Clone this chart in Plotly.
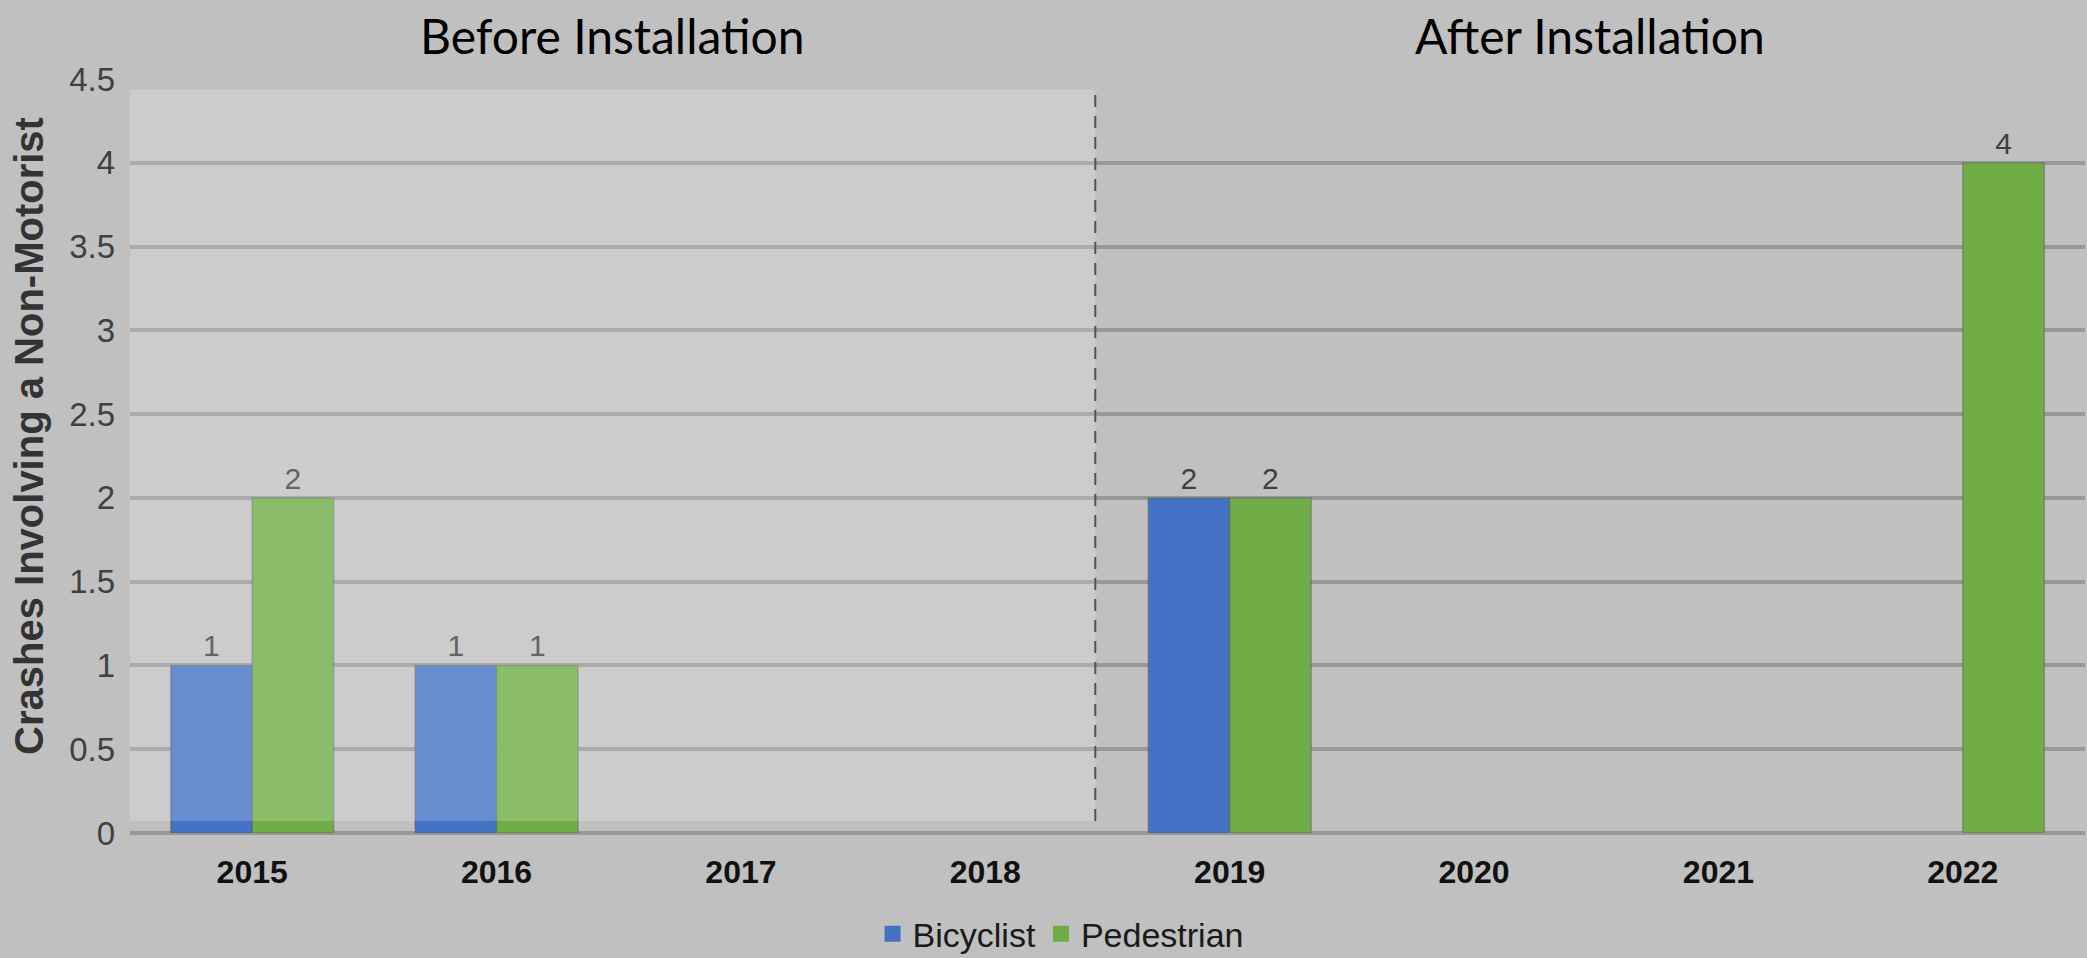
import plotly.graph_objects as go

# Crash counts by year
years = ["2015", "2016", "2017", "2018", "2019", "2020", "2021", "2022"]
bicyclist = [1, 1, 0, 0, 2, 0, 0, 0]
pedestrian = [2, 1, 0, 0, 2, 0, 0, 4]

series_names = ["Bicyclist", "Pedestrian"]
series_colors = ["#4472C4", "#70AD47"]

y_ticks = [0, 0.5, 1, 1.5, 2, 2.5, 3, 3.5, 4, 4.5]

# Divider between the two periods (category-axis units)
divider_x = 3.45

BG = "#c0c0c0"
GRID = "#989898"
FONT = "Liberation Sans, Arial, sans-serif"


def labels(vals):
    return [str(v) if v else "" for v in vals]


fig = go.Figure()

for name, vals, color in zip(series_names, [bicyclist, pedestrian], series_colors):
    fig.add_trace(go.Bar(
        x=years, y=vals, name=name,
        marker=dict(color=color,
                    line=dict(color="rgba(90,90,90,0.45)",
                              width=[1.5 if v else 0 for v in vals])),
        text=labels(vals), textposition="outside",
        textfont=dict(family=FONT, size=30, color="#404040"),
        cliponaxis=False, showlegend=False,
    ))
    # legend swatch
    fig.add_trace(go.Scatter(
        x=[None], y=[None], mode="markers", name=name,
        marker=dict(symbol="square", size=18, color=color),
        showlegend=True,
    ))

fig.update_layout(
    width=2087, height=958,
    margin=dict(l=130, r=2, t=79, b=125, autoexpand=False),
    paper_bgcolor=BG, plot_bgcolor=BG,
    barmode="group", bargap=1/3, bargroupgap=0,
    font=dict(family=FONT, color="#404040"),
    legend=dict(
        orientation="h", x=0.476, xanchor="center", y=-0.134, yanchor="middle",
        font=dict(family=FONT, size=34, color="#1a1a1a"),
        itemwidth=30, bgcolor="rgba(0,0,0,0)", tracegroupgap=0,
    ),
    xaxis=dict(
        type="category", categoryorder="array", categoryarray=years,
        range=[-0.5, len(years) - 0.5], automargin=False,
        showgrid=False, showline=False, ticks="",
        tickfont=dict(family=FONT, size=32, color="#111111", weight="bold"),
        ticklabelstandoff=17,
    ),
    yaxis=dict(
        range=[0, 4.5], tickmode="array", tickvals=y_ticks, automargin=False,
        ticktext=[f"{v:g}" for v in y_ticks],
        showgrid=True, gridcolor=GRID, gridwidth=4,
        zeroline=True, zerolinecolor=GRID, zerolinewidth=4,
        showline=False, ticks="",
        tickfont=dict(family=FONT, size=33, color="#404040"),
        ticklabelstandoff=14,
    ),
    shapes=[
        # lighter panel over the pre-installation years
        dict(type="rect", xref="x", yref="y", x0=-0.516, x1=divider_x,
             y0=0.072, y1=4.436, fillcolor="rgba(255,255,255,0.19)",
             line=dict(width=0), layer="above"),
        dict(type="line", xref="x", yref="y", x0=divider_x, x1=divider_x,
             y0=0.072, y1=4.436, line=dict(color="#555555", width=2, dash="12px,9px"),
             layer="above"),
    ],
    annotations=[
        dict(text="Crashes Involving a Non-Motorist", xref="paper", yref="paper",
             x=-0.0517, y=0.5265, textangle=-90, showarrow=False,
             xanchor="center", yanchor="middle",
             font=dict(family=FONT, size=40, color="#333333", weight="bold")),
        dict(text="Before Installation", xref="x", yref="paper",
             x=(-0.5 + divider_x) / 2, y=1.058, showarrow=False,
             xanchor="center", yanchor="middle",
             font=dict(family="Lato, sans-serif", size=48, color="#000000")),
        dict(text="After Installation", xref="x", yref="paper",
             x=(divider_x + len(years) - 0.5) / 2, y=1.058, showarrow=False,
             xanchor="center", yanchor="middle",
             font=dict(family="Lato, sans-serif", size=48, color="#000000")),
    ],
)

fig.write_html("out.html")
